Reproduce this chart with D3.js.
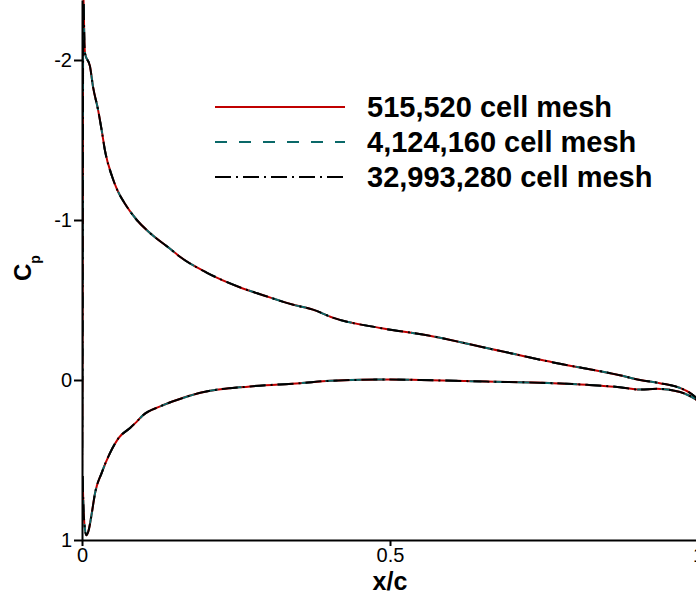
<!DOCTYPE html>
<html>
<head>
<meta charset="utf-8">
<script src="https://cdn.jsdelivr.net/npm/d3@7"></script>
<style>
  html, body { margin: 0; padding: 0; background: #fff; }
  svg { display: block; font-family: "Liberation Sans", Arial, Helvetica, sans-serif; }
</style>
</head>
<body>
<script>
// chord-wise pressure distribution
const meshNames = ['515,520 cell mesh', '4,124,160 cell mesh', '32,993,280 cell mesh'];

const upperX  = [0, 0.0005, 0.001, 0.0015, 0.002, 0.004, 0.005, 0.013, 0.018, 0.026, 0.032, 0.037,
                 0.049, 0.057, 0.070, 0.089, 0.110, 0.143, 0.159, 0.203, 0.256, 0.294, 0.343, 0.375,
                 0.407, 0.484, 0.56, 0.657, 0.765, 0.873, 0.906, 0.938, 0.971, 0.987, 1.0];
const upperCp = [0.6, 0.2, -0.5, -1.5, -2.45, -2.1, -2.04, -1.96, -1.83, -1.69, -1.56, -1.44,
                 -1.27, -1.19, -1.1, -1.0, -0.92, -0.82, -0.77, -0.67, -0.58, -0.53, -0.47, -0.44,
                 -0.39, -0.325, -0.28, -0.2, -0.11, -0.03, 0.0, 0.02, 0.05, 0.08, 0.12];

const lowerX  = [0.001, 0.003, 0.007, 0.010, 0.016, 0.021, 0.032, 0.045, 0.06, 0.078, 0.089, 0.099,
                 0.127, 0.154, 0.192, 0.273, 0.354, 0.403, 0.5, 0.549, 0.657, 0.765, 0.82, 0.873,
                 0.906, 0.933, 0.971, 0.987, 1.0];
const lowerCp = [0.6, 0.85, 0.97, 0.95, 0.83, 0.71, 0.58, 0.46, 0.36, 0.3, 0.26, 0.22,
                 0.165, 0.125, 0.08, 0.04, 0.02, 0.005, -0.003, 0.0, 0.01, 0.02, 0.03, 0.045,
                 0.06, 0.055, 0.075, 0.1, 0.13];

const xTicks = [0, 0.5, 1];
const yTicks = [-2, -1, 0, 1];

const width = 696, height = 596;
const styles = [
  { color: '#c00000', dash: null },
  { color: '#0a6868', dash: '12,12' },
  { color: '#000000', dash: '16,5,2,5' }
];

const svg = d3.select('body').append('svg')
  .attr('width', width).attr('height', height);

const x = d3.scaleLinear().domain([0, 1]).range([82, 698]);
const y = d3.scaleLinear().domain([1, -2.375]).range([540, 0]);

svg.append('defs').append('clipPath').attr('id', 'plot')
  .append('rect').attr('x', 82).attr('y', 0).attr('width', width - 82).attr('height', 540);

const upper = upperX.map((v, i) => [v, upperCp[i]]);
const lower = lowerX.map((v, i) => [v, lowerCp[i]]);
const line = d3.line().curve(d3.curveMonotoneX).x(d => x(d[0])).y(d => y(d[1]));

const curves = svg.append('g').attr('clip-path', 'url(#plot)');
styles.forEach(s => {
  [upper, lower].forEach(pts => {
    curves.append('path')
      .attr('d', line(pts))
      .attr('fill', 'none')
      .attr('stroke', s.color)
      .attr('stroke-width', 2)
      .attr('stroke-dasharray', s.dash);
  });
});

// axes
const yAxis = svg.append('g').attr('transform', 'translate(82,0)')
  .call(d3.axisLeft(y).tickValues(yTicks).tickSize(8).tickSizeOuter(0).tickPadding(2)
    .tickFormat(d => String(d)));
const xAxis = svg.append('g').attr('transform', 'translate(0,540)')
  .call(d3.axisBottom(x).tickValues(xTicks).tickSize(6).tickSizeOuter(0).tickPadding(2)
    .tickFormat(d => String(d)));
[yAxis, xAxis].forEach(a => {
  a.selectAll('path, line').attr('stroke', '#000').attr('stroke-width', 2);
  a.selectAll('text').attr('fill', '#000').attr('font-size', 20)
    .attr('font-family', '"Liberation Sans", Arial, sans-serif');
});

// axis titles
svg.append('text')
  .attr('x', x(0.5)).attr('y', 590)
  .attr('text-anchor', 'middle')
  .attr('font-size', 25).attr('font-weight', 'bold')
  .text('x/c');

const cp = svg.append('text')
  .attr('transform', 'translate(31,281) rotate(-90)')
  .attr('font-size', 24).attr('font-weight', 'bold');
cp.append('tspan').text('C');
cp.append('tspan').attr('font-size', 14).attr('dy', 9).text('p');

// legend
const legend = svg.append('g');
meshNames.forEach((name, i) => {
  const ly = 107 + i * 35;
  legend.append('line')
    .attr('x1', 215).attr('x2', 345).attr('y1', ly).attr('y2', ly)
    .attr('stroke', styles[i].color).attr('stroke-width', 2)
    .attr('stroke-dasharray', styles[i].dash);
  legend.append('text')
    .attr('x', 367).attr('y', ly + 10)
    .attr('font-size', 29).attr('font-weight', 'bold')
    .text(name);
});
</script>
</body>
</html>
